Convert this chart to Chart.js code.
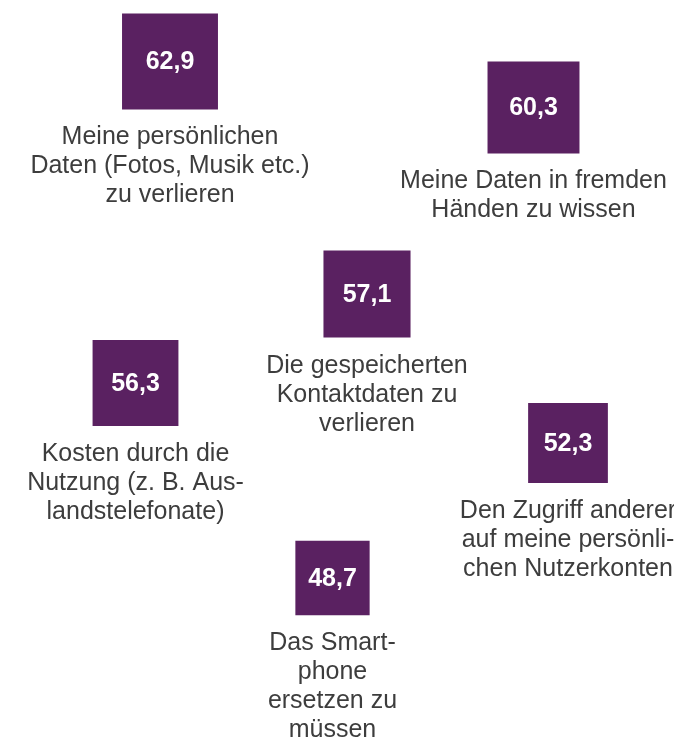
<!DOCTYPE html>
<html>
<head>
<meta charset="utf-8">
<script src="https://cdn.jsdelivr.net/npm/chart.js@4"></script>
<style>
  html, body { margin: 0; padding: 0; background: #fff; }
  #wrap { width: 674px; height: 742px; position: relative; }
</style>
</head>
<body>
<div id="wrap"><canvas id="myChart"></canvas></div>
<script>
// values (percent) and their categories
const values = [62.9, 60.3, 57.1, 56.3, 52.3, 48.7];
const categories = [
    ['Meine persönlichen', 'Daten (Fotos, Musik etc.)', 'zu verlieren'],
    ['Meine Daten in fremden', 'Händen zu wissen'],
    ['Die gespeicherten', 'Kontaktdaten zu', 'verlieren'],
    ['Kosten durch die', 'Nutzung (z. B. Aus-', 'landstelefonate)'],
    ['Den Zugriff anderer', 'auf meine persönli-', 'chen Nutzerkonten'],
    ['Das Smart-', 'phone', 'ersetzen zu', 'müssen']
];

// where each square sits on the (hidden) layout grid
const posX = [170, 533.5, 367, 135.5, 568, 332.5];
const posY = [61.5, 107.5, 294, 383, 443, 578];

const purple = '#5a2161';
const textGrey = '#3d3d3d';
const sidePerUnit = 1.525;   // square side in px per percent point

const labelPlugin = {
    id: 'squareLabels',
    afterDatasetsDraw(chart) {
        const ctx = chart.ctx;
        const meta = chart.getDatasetMeta(0);
        ctx.save();
        ctx.textAlign = 'center';
        meta.data.forEach((pt, i) => {
            const side = values[i] * sidePerUnit;
            // value inside the square
            ctx.fillStyle = '#ffffff';
            ctx.font = 'bold 25px "Liberation Sans", Arial, sans-serif';
            ctx.textBaseline = 'middle';
            ctx.fillText(values[i].toFixed(1).replace('.', ','), pt.x, pt.y + 1);
            // category below
            ctx.fillStyle = textGrey;
            ctx.font = '25px "Liberation Sans", Arial, sans-serif';
            ctx.textBaseline = 'alphabetic';
            let y = pt.y + side / 2 + 35;
            categories[i].forEach(line => {
                ctx.fillText(line, pt.x, y);
                y += 29;
            });
        });
        ctx.restore();
    }
};

const loadChart = () => {
    var ctx = document.getElementById('myChart').getContext('2d');
    var chart = new Chart(ctx, {
        type: 'scatter',
        data: {
            datasets: [{
                data: values.map((v, i) => ({ x: posX[i], y: posY[i] })),
                backgroundColor: purple,
                pointStyle: 'rect',
                pointBorderWidth: 0,
                // rect side = sqrt(2) * radius in Chart.js
                pointRadius: c => values[c.dataIndex] * sidePerUnit / Math.SQRT2,
                pointHoverRadius: c => values[c.dataIndex] * sidePerUnit / Math.SQRT2,
                clip: false
            }]
        },
        options: {
            responsive: true,
            maintainAspectRatio: false,
            animation: false,
            events: [],
            layout: { padding: 0, autoPadding: false },
            scales: {
                x: { type: 'linear', min: 0, max: 674, display: false },
                y: { type: 'linear', min: 0, max: 742, reverse: true, display: false }
            },
            plugins: {
                legend: { display: false },
                tooltip: { enabled: false }
            }
        },
        plugins: [labelPlugin]
    });
}

loadChart();
</script>
</body>
</html>
